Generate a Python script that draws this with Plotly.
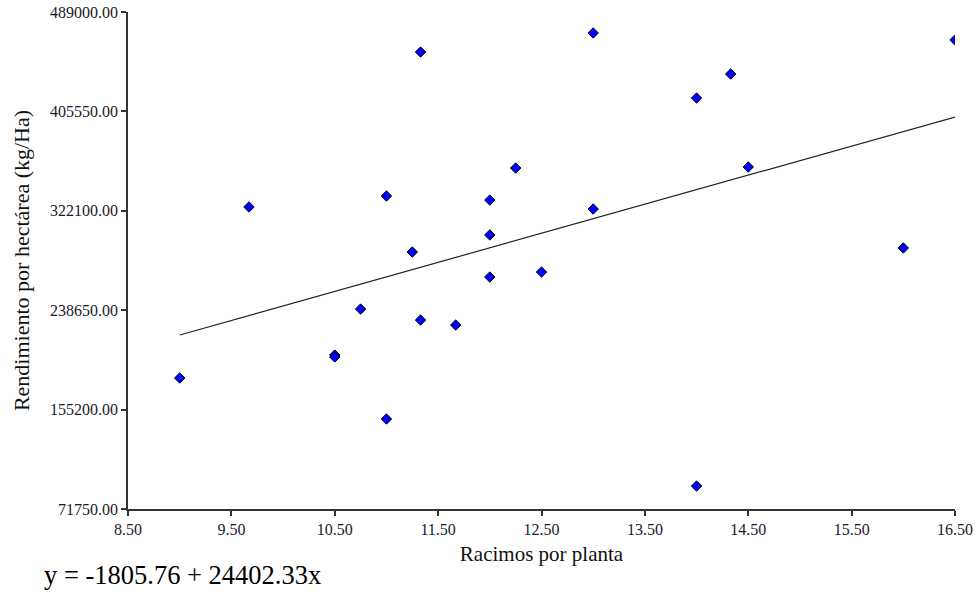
import plotly.graph_objects as go

# Data
racimos = [9.0, 9.67, 10.5, 10.5, 10.75, 11.0, 11.0, 11.25, 11.33, 11.33, 11.67,
           12.0, 12.0, 12.0, 12.25, 12.5, 13.0, 13.0, 14.0, 14.0, 14.33, 14.5, 16.0, 16.5]
rendimiento = [181700, 325300, 201000, 199400, 239600, 334500, 147300, 287500, 455400,
               230400, 226200, 331100, 301800, 266500, 358000, 270700, 471400, 323600,
               416800, 91000, 436900, 358900, 290900, 465500]

intercept = -1805.76
slope = 24402.33

x_ticks = [8.5, 9.5, 10.5, 11.5, 12.5, 13.5, 14.5, 15.5, 16.5]
y_ticks = [71750, 155200, 238650, 322100, 405550, 489000]

x_fit = [min(racimos), max(racimos)]
y_fit = [intercept + slope * v for v in x_fit]

font_family = "Liberation Serif, Times New Roman, serif"

fig = go.Figure()
fig.add_trace(go.Scatter(x=x_fit, y=y_fit, mode="lines",
                         line=dict(color="#222222", width=1.2),
                         hoverinfo="skip", showlegend=False))
fig.add_trace(go.Scatter(x=racimos, y=rendimiento, mode="markers",
                         marker=dict(symbol="diamond", size=8, color="#0000FF",
                                     line=dict(color="#000000", width=1)),
                         showlegend=False))

axis_common = dict(showgrid=False, zeroline=False, showline=True, linecolor="#333333",
                   linewidth=1.5, ticks="outside", ticklen=5, tickcolor="#333333",
                   tickwidth=1.5, tickfont=dict(family=font_family, size=16, color="#1a1a2a"),
                   tickformat=".2f", ticklabeloverflow="allow")

fig.update_xaxes(range=[8.5, 16.5], tickvals=x_ticks, **axis_common,
                 title=dict(text="Racimos por planta",
                            font=dict(family=font_family, size=21, color="#111111"),
                            standoff=9))
fig.update_yaxes(range=[71750, 489000], tickvals=y_ticks, **axis_common,
                 title=dict(text="Rendimiento por hectárea (kg/Ha)",
                            font=dict(family=font_family, size=22, color="#111111"),
                            standoff=14))

fig.add_annotation(text="y = -1805.76 + 24402.33x", xref="paper", yref="paper",
                   x=-0.1035, y=-0.1328, xanchor="left", yanchor="middle",
                   showarrow=False, font=dict(family=font_family, size=26.5, color="#000000"))

fig.update_layout(width=977, height=596, plot_bgcolor="white", paper_bgcolor="white",
                  margin=dict(l=128, r=22, t=12, b=87, autoexpand=False))

# remove the default 8px page margin so the figure fills the window exactly
fig.write_html("out.html", config={"displayModeBar": False},
               post_script="document.body.style.margin='0';")
